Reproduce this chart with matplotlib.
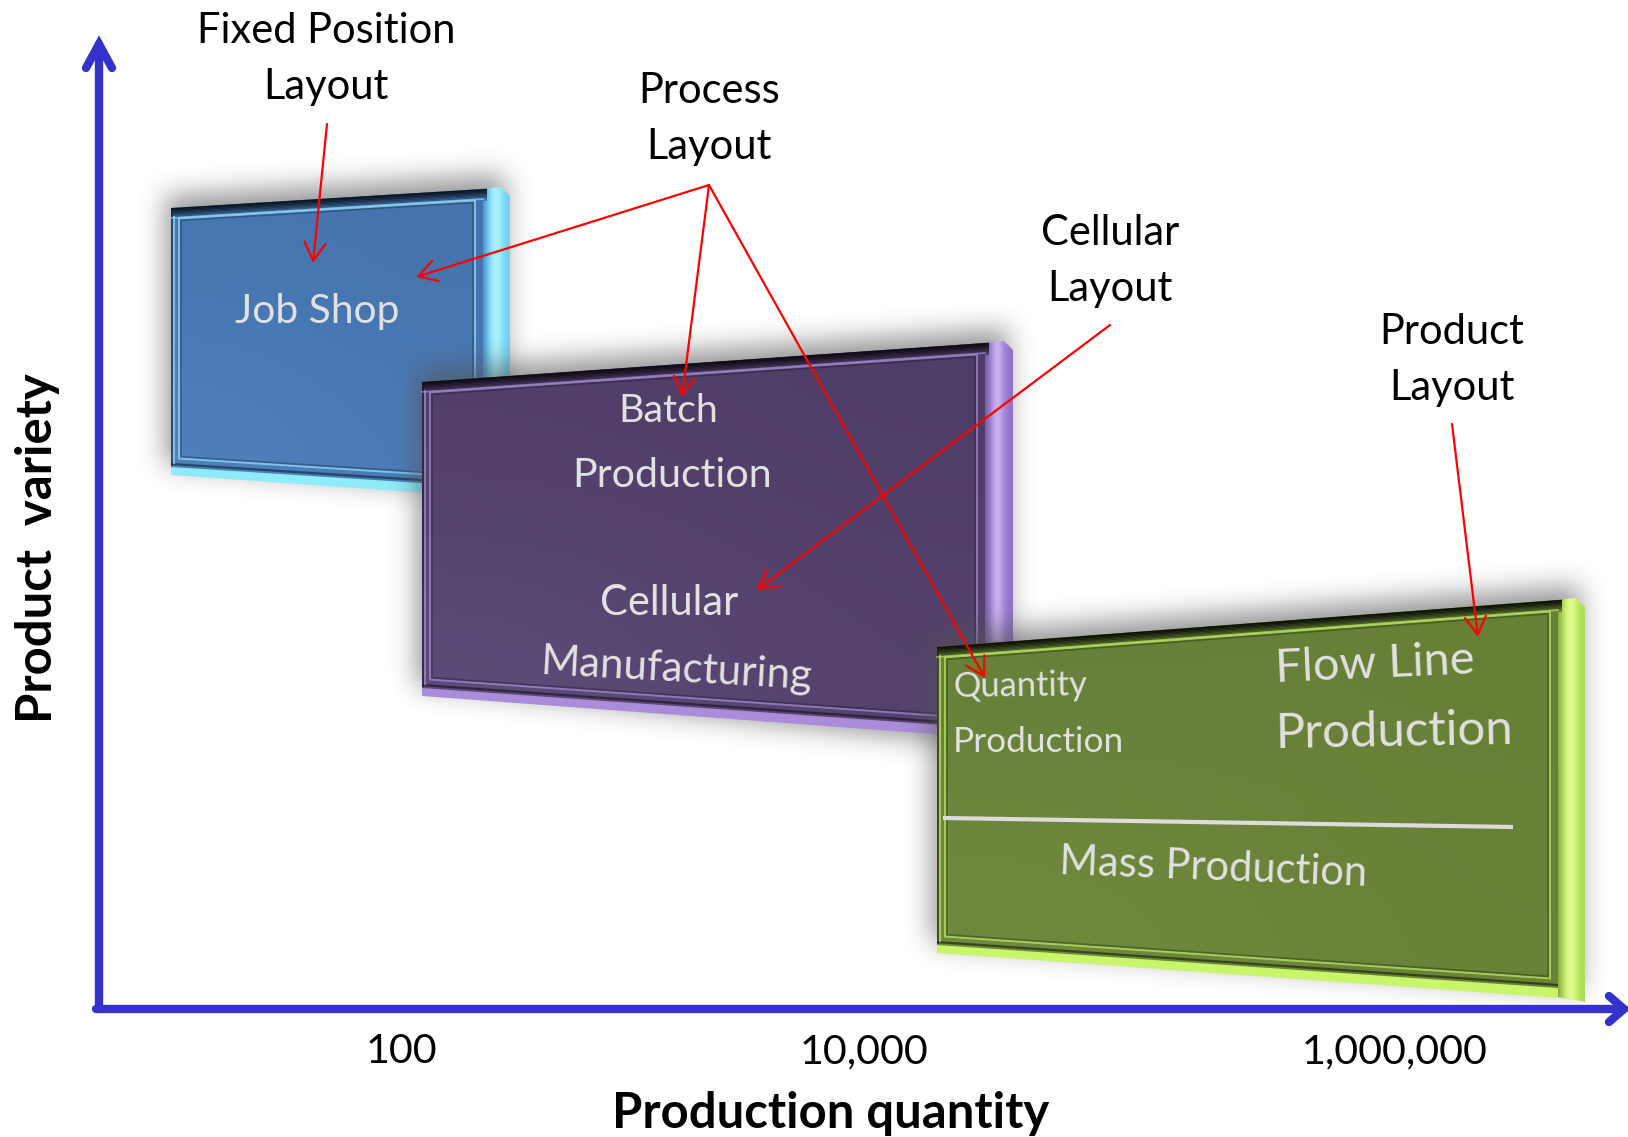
import numpy as np
import matplotlib
matplotlib.use("Agg")
import matplotlib.pyplot as plt
from matplotlib.patches import Polygon
from matplotlib.path import Path
from matplotlib.colors import to_rgb

# ---------------- data ----------------
x_tick_labels = ["100", "10,000", "1,000,000"]
x_axis_label = "Production quantity"
y_axis_label = "Product  variety"
layout_titles = [("Fixed Position", "Layout"), ("Process", "Layout"),
                 ("Cellular", "Layout"), ("Product", "Layout")]
job_shop_texts = ["Job Shop"]
batch_texts = ["Batch", "Production", "Cellular", "Manufacturing"]
mass_texts = ["Quantity", "Production", "Flow Line", "Production", "Mass Production"]

# ---------------- figure ----------------
W, H, DPI = 1628, 1137, 100
plt.rcParams["font.family"] = ["Lato", "DejaVu Sans"]
fig = plt.figure(figsize=(W / DPI, H / DPI), dpi=DPI)
ax = fig.add_axes([0, 0, 1, 1])
ax.set_xlim(0, W)
ax.set_ylim(H, 0)
ax.axis("off")
renderer = fig.canvas.get_renderer()


def fit_text(x, y, s, width, base=30, **kw):
    rot = kw.pop("rotation", 0)
    t = ax.text(x, y, s, fontsize=base, **kw)
    w = t.get_window_extent(renderer).width
    t.set_fontsize(base * width / w)
    t.set_rotation(rot)
    return t


def box_blur(a, r, axis):
    a = np.moveaxis(a, axis, 0)
    pad = [(r + 1, r)] + [(0, 0)] * (a.ndim - 1)
    p = np.pad(a, pad)
    c = np.cumsum(p, axis=0)
    out = (c[2 * r + 1:] - c[:-2 * r - 1]) / (2 * r + 1)
    return np.moveaxis(out, 0, axis)


def shadow(poly, z, dx=-5, dy=-12, r=12, alpha=0.62, margin=90):
    poly = np.asarray(poly, float)
    x0 = int(max(poly[:, 0].min() - margin, 0)); x1 = int(min(poly[:, 0].max() + margin, W))
    y0 = int(max(poly[:, 1].min() - margin, 0)); y1 = int(min(poly[:, 1].max() + margin, H))
    yy, xx = np.mgrid[y0:y1, x0:x1]
    pts = np.column_stack([xx.ravel() + 0.5 - dx, yy.ravel() + 0.5 - dy])
    m = Path(poly).contains_points(pts).reshape(xx.shape).astype(float)
    for _ in range(3):
        m = box_blur(m, r, 0)
        m = box_blur(m, r, 1)
    img = np.zeros(m.shape + (4,))
    img[..., :3] = 0.33
    img[..., 3] = np.clip(m, 0, 1) * alpha
    ax.imshow(img, extent=(x0, x1, y1, y0), origin="upper", zorder=z,
              interpolation="bilinear", aspect="auto")


def mix(c1, c2, t):
    a, b = np.array(to_rgb(c1)), np.array(to_rgb(c2))
    return tuple(a + (b - a) * t)


def gradient_fill(poly, colors, z, horizontal=True, grid=None):
    poly = np.asarray(poly, float)
    x0, x1 = poly[:, 0].min(), poly[:, 0].max()
    y0, y1 = poly[:, 1].min(), poly[:, 1].max()
    if grid is not None:
        arr = np.array([[to_rgb(c) for c in row] for row in grid])
    elif horizontal:
        arr = np.array([[to_rgb(c) for c in colors]])
    else:
        arr = np.array([[to_rgb(c)] for c in colors])
    patch = Polygon(poly, closed=True, transform=ax.transData)
    im = ax.imshow(arr, extent=(x0, x1, y1, y0), origin="upper", zorder=z,
                   interpolation="bicubic", aspect="auto")
    im.set_clip_path(patch)


panels = [
    dict(xl=171, xr=483, ytl=208, ytr=189, ybl=467, ybr=487, side=27, side_bot=505,
         grid=[["#4676AF", "#4573AD"], ["#4E80BD", "#4A7AB6"]],
         band="#0B1522", frame="#8EDAF7", lip="#8DEBFA",
         side_cols=["#3C8CC6", "#7AD6F4", "#B8F6FF", "#94EAFC", "#70D0EE"]),
    dict(xl=422, xr=985, ytl=382, ytr=343, ybl=688, ybr=728, side=28, side_bot=760,
         grid=[["#513F69", "#4E3D66"], ["#5D4B79", "#54426C"]],
         band="#0E0A14", frame="#A08AD0", lip="#AA8CDB",
         side_cols=["#6E58A0", "#A386D6", "#D8C4FA", "#A585D8", "#9272C6"]),
    dict(xl=937, xr=1558, ytl=647, ytr=600, ybl=945, ybr=988, side=27, side_bot=1002,
         grid=[["#67803A", "#687F36"], ["#708A3E", "#6A8238"]],
         band="#0B1005", frame="#B9E460", lip="#C8F56A",
         side_cols=["#7FA23A", "#BCEA5C", "#EEFFA8", "#C8F56A", "#AEDC52"]),
]


def draw_panel(p, z):
    xl, xr, d = p["xl"], p["xr"], p["side"]

    def yt(x):
        return p["ytl"] + (p["ytr"] - p["ytl"]) * (x - xl) / (xr - xl)

    def yb(x):
        return p["ybl"] + (p["ybr"] - p["ybl"]) * (x - xl) / (xr - xl)

    outline = [(xl, p["ytl"]), (xr + d, p["ytr"] - 2), (xr + d, p["side_bot"]), (xl, p["ybl"] + 9)]
    shadow(outline, z)

    # bottom lip
    lip = [(xl, p["ybl"] - 2), (xr + 2, p["ybr"] - 2), (xr + 2, p["ybr"] + 10), (xl, p["ybl"] + 8)]
    ax.add_patch(Polygon(lip, closed=True, facecolor=p["lip"], edgecolor="none", zorder=z + 1))
    # side face
    side = [(xr - 3, p["ytr"]), (xr + d - 9, p["ytr"] - 2), (xr + d, p["ytr"] + 7),
            (xr + d, p["side_bot"]), (xr, p["ybr"] + 9)]
    gradient_fill(side, p["side_cols"], z + 1)
    # front face
    face = [(xl, p["ytl"]), (xr, p["ytr"]), (xr, p["ybr"]), (xl, p["ybl"])]
    gradient_fill(face, None, z + 2, grid=p["grid"])
    # top dark bevel band
    base_col = p["grid"][0][0]
    n, th = 9, 1.3
    for i in range(n):
        t = i / (n - 1)
        col = mix(p["band"], base_col, t ** 1.3)
        strip = [(xl, p["ytl"] + i * th), (xr + 4, yt(xr + 4) + i * th),
                 (xr + 4, yt(xr + 4) + (i + 1) * th + 0.4), (xl, p["ytl"] + (i + 1) * th + 0.4)]
        ax.add_patch(Polygon(strip, closed=True, facecolor=col, edgecolor="none", zorder=z + 3))
    # dark line at bottom edge of face, left edge
    ax.plot([xl, xr], [p["ybl"] - 3, p["ybr"] - 3], color=p["band"], lw=1.6, alpha=0.55,
            zorder=z + 3, solid_capstyle="butt")
    ax.plot([xl + 1, xl + 1], [p["ytl"] + 6, p["ybl"] - 2], color=p["band"], lw=1.4, alpha=0.5, zorder=z + 3)
    ax.plot([xl + 3, xl + 3], [p["ytl"] + 9, p["ybl"] - 4], color=p["frame"], lw=1.5, alpha=0.75, zorder=z + 3)
    # inner frame
    a, b = xl + 8, xr - 8
    frame = [(a, yt(a) + 11), (b, yt(b) + 11), (b, yb(b) - 9), (a, yb(a) - 9)]
    ax.add_patch(Polygon(frame, closed=True, fill=False, edgecolor=p["frame"], lw=1.4,
                         alpha=0.75, zorder=z + 3))
    frame2 = [(a + 2, yt(a + 2) + 13), (b - 2, yt(b - 2) + 13), (b - 2, yb(b - 2) - 11), (a + 2, yb(a + 2) - 11)]
    ax.add_patch(Polygon(frame2, closed=True, fill=False, edgecolor=p["band"], lw=1.2,
                         alpha=0.3, zorder=z + 3))
    # highlight line right under band
    ax.plot([xl, xr], [p["ytl"] + 10, p["ytr"] + 10], color=p["frame"], lw=1.2, alpha=0.7, zorder=z + 3)


for k, p in enumerate(panels):
    draw_panel(p, 10 + 10 * k)

# ---------------- panel texts ----------------
WT = "#E1E1E1"
fit_text(317, 323, job_shop_texts[0], 164, color=WT, ha="center", va="baseline", zorder=15)
fit_text(668, 422, batch_texts[0], 100, color=WT, ha="center", va="baseline", zorder=25)
fit_text(672, 487, batch_texts[1], 199, color=WT, ha="center", va="baseline", zorder=25)
fit_text(669, 615, batch_texts[2], 138, color=WT, ha="center", va="baseline", zorder=25)
fit_text(540, 674, batch_texts[3], 272, color=WT, ha="left", va="baseline",
         rotation=-3.2, rotation_mode="anchor", zorder=25)
fit_text(953, 697, mass_texts[0], 134, color=WT, ha="left", va="baseline",
         rotation=0.8, rotation_mode="anchor", zorder=35)
fit_text(953, 752, mass_texts[1], 171, color=WT, ha="left", va="baseline", zorder=35)
fit_text(1276, 682, mass_texts[2], 199, color=WT, ha="left", va="baseline",
         rotation=2.5, rotation_mode="anchor", zorder=35)
fit_text(1276, 748, mass_texts[3], 238, color=WT, ha="left", va="baseline",
         rotation=1.0, rotation_mode="anchor", zorder=35)
fit_text(1059, 874, mass_texts[4], 308, color=WT, ha="left", va="baseline",
         rotation=-2.2, rotation_mode="anchor", zorder=35)
ax.plot([943, 1513], [818, 827], color="#DCDCDC", lw=3, zorder=35, solid_capstyle="butt")

# ---------------- axes ----------------
AX = "#3333CC"
ax.plot([99, 99], [1009, 44], color=AX, lw=6, solid_capstyle="round", zorder=50)
ax.plot([86, 99, 112], [68, 44, 68], color=AX, lw=6, solid_capstyle="round",
        solid_joinstyle="miter", zorder=50)
ax.plot([96, 1624], [1009, 1009], color=AX, lw=6, solid_capstyle="round", zorder=50)
ax.plot([1609, 1624, 1609], [996, 1009, 1022], color=AX, lw=6, solid_capstyle="round",
        solid_joinstyle="miter", zorder=50)

t0 = fit_text(1395, 1063, x_tick_labels[2], 186, color="black", ha="center", va="baseline", zorder=50)
fs = t0.get_fontsize()
for x, s in zip([401, 864], x_tick_labels[:2]):
    ax.text(x, 1063, s, fontsize=fs, color="black", ha="center", va="baseline", zorder=50)

fit_text(831, 1128, x_axis_label, 436, color="black", ha="center", va="baseline",
         fontweight="bold", zorder=50)
fit_text(52, 548, y_axis_label, 349, color="black", ha="center", va="baseline",
         fontweight="bold", rotation=90, rotation_mode="anchor", zorder=50)

# ---------------- layout titles ----------------
t1 = fit_text(326, 43, layout_titles[0][0], 258, color="black", ha="center", va="baseline", zorder=50)
fl = t1.get_fontsize()
title_pos = [(326, 43, 99), (709, 103, 159), (1110, 245, 301), (1452, 344, 400)]
for i, ((l1, l2), (cx, b1, b2)) in enumerate(zip(layout_titles, title_pos)):
    if i > 0:
        ax.text(cx, b1, l1, fontsize=fl, color="black", ha="center", va="baseline", zorder=50)
    ax.text(cx, b2, l2, fontsize=fl, color="black", ha="center", va="baseline", zorder=50)

# ---------------- red arrows ----------------
arrows = [((327, 124), (313, 263)), ((709, 185), (416, 277)), ((709, 185), (682, 397)),
          ((709, 185), (985, 678)), ((1110, 325), (757, 590)), ((1452, 424), (1478, 637))]
for (sx, sy), (tx, ty) in arrows:
    ax.annotate("", xy=(tx, ty), xytext=(sx, sy), zorder=60,
                arrowprops=dict(arrowstyle="->,head_length=0.65,head_width=0.38", color="red",
                                lw=1.6, mutation_scale=20, shrinkA=0, shrinkB=0))

ax.set_xlim(0, W)
ax.set_ylim(H, 0)
fig.savefig("out.png", dpi=DPI)
